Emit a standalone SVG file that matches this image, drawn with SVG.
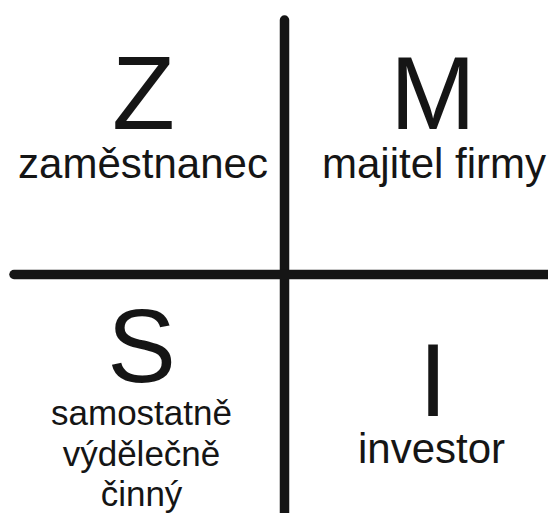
<svg xmlns="http://www.w3.org/2000/svg" width="548" height="513" viewBox="0 0 548 513">
<style>
.t{font-family:"Liberation Sans",Arial,sans-serif;fill:#151515;text-anchor:middle}
.big{font-size:103px}
.lbl{font-size:42px}
.sm{font-size:35px}
.ln{stroke:#151515;stroke-width:9.5;stroke-linecap:round;fill:none}
</style>
<rect width="548" height="513" fill="#fff"/>
<g id="connectors">
<line class="ln" x1="284.5" y1="20" x2="284.5" y2="520"/>
<line class="ln" x1="14" y1="274.5" x2="560" y2="274.5"/>
</g>
<g id="Z">
<text class="t big" x="143.5" y="129">Z</text>
<text class="t lbl" x="143" y="178">zaměstnanec</text>
</g>
<g id="M">
<text class="t big" x="433" y="129">M</text>
<text class="t lbl" x="434" y="178">majitel firmy</text>
</g>
<g id="S">
<text class="t big" x="141.5" y="382">S</text>
<text class="t sm" x="141.5" y="425">samostatně</text>
<text class="t sm" x="141.5" y="466">výdělečně</text>
<text class="t sm" x="141.5" y="506">činný</text>
</g>
<g id="I">
<text class="t big" x="433" y="416">I</text>
<text class="t lbl" x="431.5" y="463">investor</text>
</g>
</svg>
